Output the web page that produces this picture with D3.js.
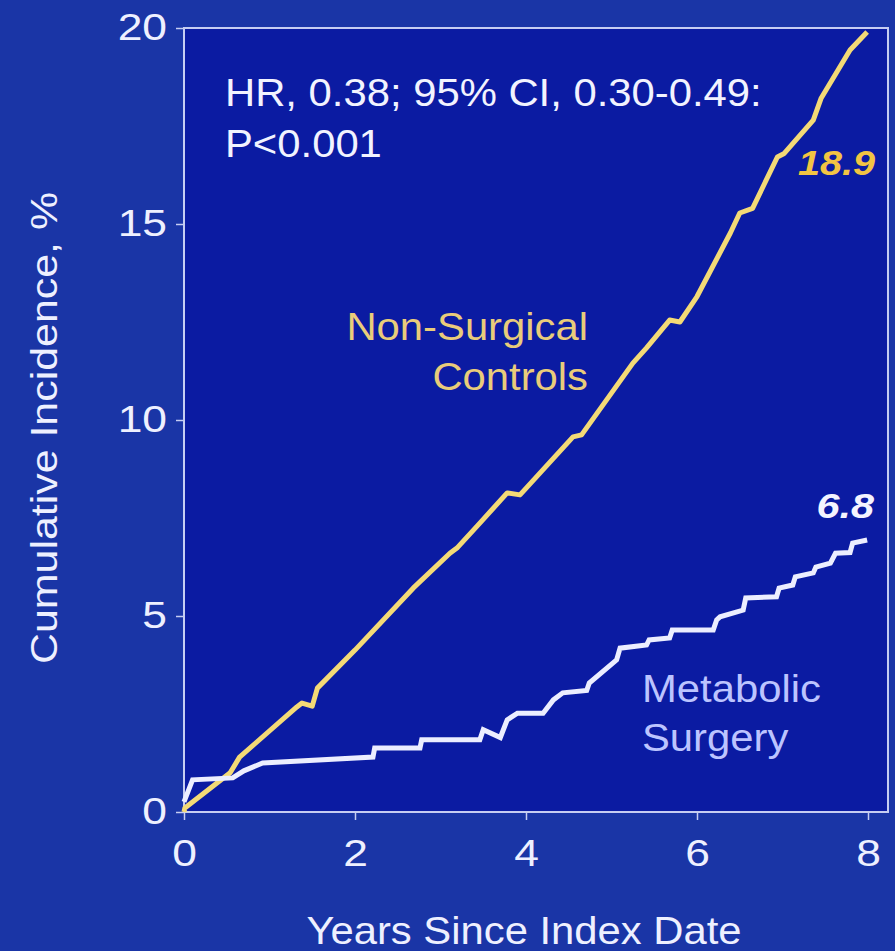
<!DOCTYPE html>
<html lang="en">
<head>
<meta charset="utf-8">
<script src="https://cdn.jsdelivr.net/npm/d3@7"></script>
<style>
  html, body { margin: 0; padding: 0; background: #1a35a6; }
  svg { display: block; font-family: "Liberation Sans", Arial, sans-serif; }
</style>
</head>
<body>
<svg id="plot" width="895" height="951"></svg>
<script>
// ticks
const xTicks = [0, 2, 4, 6, 8]
const yTicks = [0, 5, 10, 15, 20]

// Non-surgical controls, [years, cumulative incidence %]
const controls = [
  [0, 0], [0.01, 0.1], [0.54, 1.0], [0.65, 1.4], [1.32, 2.68], [1.38, 2.78],
  [1.5, 2.7], [1.56, 3.16], [2.0, 4.13], [2.68, 5.71], [3.11, 6.6], [3.2, 6.75],
  [3.46, 7.37], [3.78, 8.14], [3.93, 8.09], [4.55, 9.57], [4.65, 9.62],
  [5.25, 11.45], [5.41, 11.84], [5.68, 12.55], [5.8, 12.5], [6.0, 13.15],
  [6.39, 14.77], [6.5, 15.28], [6.65, 15.4], [6.94, 16.71], [7.02, 16.8],
  [7.36, 17.65], [7.45, 18.2], [7.79, 19.44], [7.99, 19.9]
]

// Metabolic surgery
const surgery = [
  [0, 0.26], [0.1, 0.82], [0.57, 0.87], [0.7, 1.05], [0.92, 1.25], [2.21, 1.4],
  [2.23, 1.63], [2.76, 1.63], [2.78, 1.84], [3.46, 1.84], [3.5, 2.1],
  [3.7, 1.9], [3.78, 2.35], [3.9, 2.52], [4.2, 2.52], [4.32, 2.86],
  [4.43, 3.04], [4.71, 3.1], [4.74, 3.29], [5.06, 3.88], [5.1, 4.18],
  [5.41, 4.26], [5.44, 4.39], [5.68, 4.44], [5.71, 4.64], [6.19, 4.64],
  [6.23, 4.9], [6.27, 4.98], [6.54, 5.15], [6.57, 5.46], [6.93, 5.49],
  [6.96, 5.71], [7.12, 5.79], [7.15, 6.0], [7.36, 6.1], [7.39, 6.25],
  [7.56, 6.35], [7.62, 6.6], [7.79, 6.62], [7.82, 6.86], [7.99, 6.94]
]

const finalValues = { controls: "18.9", surgery: "6.8" }

// the slide's lettering is a bit wider than Arial, so stretch text horizontally
const SX = 1.12

let svg = d3.select("#plot")

let x = d3.scaleLinear().domain([0, 8]).range([184, 868])
let y = d3.scaleLinear().domain([0, 20]).range([812, 28])

// places a (possibly multi-line) stretched text with its anchor at (ax, ay)
function label(lines, ax, ay, opts) {
  let t = svg.append("text")
    .attr("transform", "translate(" + ax + "," + ay + ") scale(" + (opts.sx || SX) + ",1)" + (opts.rotate ? "" : ""))
    .attr("text-anchor", opts.anchor || "start")
    .attr("fill", opts.fill)
    .style("font-size", opts.size + "px")
  if (opts.bold) t.style("font-weight", "bold")
  if (opts.italic) t.style("font-style", "italic")
  lines.forEach((s, i) => {
    t.append("tspan").text(s).attr("x", 0).attr("y", i * (opts.lh || 0))
  })
  return t
}

// plot panel (slightly darker blue) + frame
svg.append("rect")
  .attr("x", x(0)).attr("y", y(20))
  .attr("width", 888 - x(0)).attr("height", y(0) - y(20))
  .attr("fill", "#0b1ba2")
  .attr("stroke", "#c6cdf2")
  .attr("stroke-width", 2)

// axes
let axisY = d3.axisLeft(y).tickValues(yTicks).tickSize(8).tickPadding(9)
let gy = svg.append("g").attr("transform", "translate(" + x(0) + ",0)").call(axisY)
let axisX = d3.axisBottom(x).tickValues(xTicks).tickSize(8).tickPadding(20)
let gx = svg.append("g").attr("transform", "translate(0," + y(0) + ")").call(axisX)

;[gx, gy].forEach(g => {
  g.select(".domain").remove()
  g.selectAll("line").attr("stroke", "#c6cdf2").attr("stroke-width", 1.5)
  g.selectAll("text").attr("fill", "#eef0ff").style("font-size", "37px")
    .style("font-family", "Liberation Sans, Arial, sans-serif")
})
gx.selectAll("text").attr("transform", "scale(1.2,1)")
gy.selectAll("text").attr("transform", "translate(-17,0) scale(1.2,1) translate(17,0)")

// axis titles
label(["Years Since Index Date"], 524, 944, { anchor: "middle", fill: "#eef0ff", size: 38, sx: 1.1 })

svg.append("text")
  .text("Cumulative Incidence, %")
  .attr("transform", "translate(57,428) rotate(-90) scale(1.16,1)")
  .attr("text-anchor", "middle")
  .attr("fill", "#eef0ff")
  .style("font-size", "37px")

// lines
let line = d3.line().x(d => x(d[0])).y(d => y(d[1]))

svg.append("path")
  .datum(controls)
  .attr("fill", "none")
  .attr("stroke", "#f4da76")
  .attr("stroke-width", 5)
  .attr("stroke-linejoin", "round")
  .attr("d", line)

svg.append("path")
  .datum(surgery)
  .attr("fill", "none")
  .attr("stroke", "#eceeff")
  .attr("stroke-width", 5)
  .attr("stroke-linejoin", "miter")
  .attr("d", line)

// annotation
label(["HR, 0.38; 95% CI, 0.30-0.49:", "P<0.001"], 225, 106,
  { fill: "#f2f3ff", size: 38, sx: 1.1, lh: 51 })

// series labels
label(["Non-Surgical", "Controls"], 588, 340,
  { anchor: "end", fill: "#e9cc7a", size: 38, sx: 1.1, lh: 50 })
label(["Metabolic", "Surgery"], 642, 702,
  { fill: "#bcc4ff", size: 38, sx: 1.1, lh: 49 })

// end values
label([finalValues.controls], 875, 175,
  { anchor: "end", fill: "#f2c443", size: 36, sx: 1.1, bold: true, italic: true })
label([finalValues.surgery], 874, 518,
  { anchor: "end", fill: "#f4f4ff", size: 36, sx: 1.15, bold: true, italic: true })
</script>
</body>
</html>
